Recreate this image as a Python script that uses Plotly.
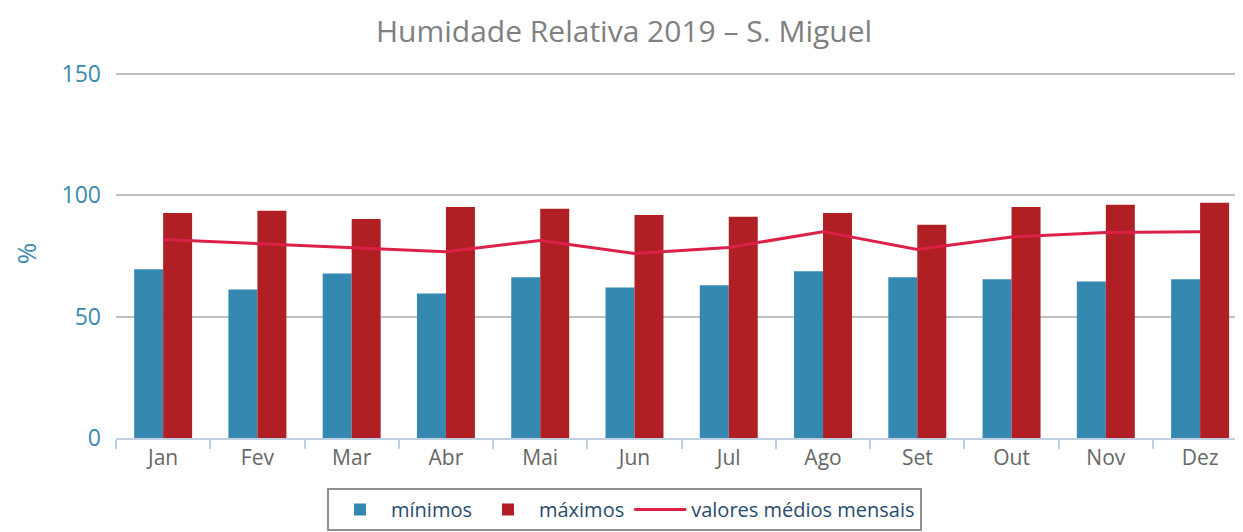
import plotly.graph_objects as go

months = ["Jan", "Fev", "Mar", "Abr", "Mai", "Jun", "Jul", "Ago", "Set", "Out", "Nov", "Dez"]
minimos = [69.5, 61.2, 67.8, 59.5, 66.2, 62.0, 62.9, 68.7, 66.2, 65.4, 64.5, 65.4]
maximos = [92.7, 93.6, 90.2, 95.2, 94.4, 91.9, 91.1, 92.7, 87.8, 95.2, 96.1, 96.9]
medios = [81.8, 80.0, 78.2, 76.7, 81.4, 76.0, 78.5, 85.0, 77.7, 82.8, 84.6, 85.0]

FONT = "Open Sans"
OFF = 8  # page body margin offset
Y0, Y150 = 438.5, 73.5            # screen pixel rows of y=0 and y=150
YMAX = 152
PX = (Y0 - Y150) / 150
TOP = Y0 - YMAX * PX
W, H = 1243 - OFF, 532 - OFF
L = 116 - OFF
T = TOP - OFF
B = H - (Y0 - OFF)

fig = go.Figure()
fig.add_trace(go.Bar(x=months, y=minimos, name="mínimos", marker_color="#3588b0",
                     marker_line_width=0))
fig.add_trace(go.Bar(x=months, y=maximos, name="máximos", marker_color="#b01f24",
                     marker_line_width=0))
fig.add_trace(go.Scatter(x=months, y=medios, name="valores médios mensais", mode="lines",
                         line=dict(color="#dc2149", width=3)))

fig.update_layout(
    width=W, height=H,
    margin=dict(l=L, r=0, t=T, b=B, autoexpand=False),
    paper_bgcolor="white", plot_bgcolor="white",
    font=dict(family=FONT),
    barmode="group", bargap=0.385, bargroupgap=0,
    title=dict(text="Humidade Relativa 2019 – S. Miguel", x=(624 - OFF) / W, xref="container",
               xanchor="center", y=1 - (31 - OFF) / H, yref="container", yanchor="middle",
               font=dict(family=FONT, size=30, color="#808080")),
    xaxis=dict(range=[-0.5, 11.455], showline=True, linecolor="#c0d0e0", linewidth=2,
               ticks="outside", tickson="boundaries", ticklen=9, tickwidth=2,
               tickcolor="#c0d0e0", showgrid=False, zeroline=False,
               tickfont=dict(family=FONT, size=21, color="#666666")),
    yaxis=dict(range=[0, YMAX], tickvals=[0, 50, 100, 150], showgrid=True,
               gridcolor="#c0c0c0", gridwidth=2, zeroline=False, showline=False,
               ticks="", ticklabelstandoff=14,
               tickfont=dict(family=FONT, size=23, color="#3a8ab0"),
               title=dict(text="%", standoff=36,
                          font=dict(family=FONT, size=26, color="#3a8ab0"))),
    showlegend=True,
    legend=dict(orientation="h", xref="container", yref="container",
                x=(624.5 - OFF) / W, xanchor="center", y=1 - (488 - OFF) / H, yanchor="top",
                bordercolor="#909090", borderwidth=2, bgcolor="white",
                font=dict(family=FONT, size=20, color="#274b6d"),
                itemwidth=52, traceorder="normal"),
)

fig.write_html("out.html")
